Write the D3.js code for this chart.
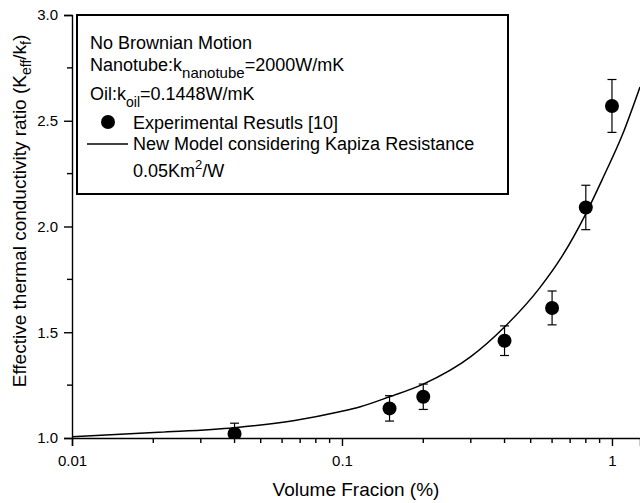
<!DOCTYPE html>
<html>
<head>
<meta charset="utf-8">
<script src="https://cdn.jsdelivr.net/npm/d3@7"></script>
<style>
  html, body { margin: 0; padding: 0; background: #fff; }
  svg { display: block; font-family: "Liberation Sans", Arial, Helvetica, sans-serif; }
</style>
</head>
<body>
<svg id="chart" width="640" height="503"></svg>
<script>
// Measured thermal conductivity ratio of nanotube/oil suspensions
const fractions = [0.04, 0.15, 0.2, 0.4, 0.6, 0.8, 1.0];
const ratios    = [1.02, 1.14, 1.195, 1.46, 1.615, 2.09, 2.57];
const errors    = [0.05, 0.06, 0.06, 0.07, 0.08, 0.105, 0.125];

// Model curve with Kapitza resistance (0.05 Km²/W)
const modelFractions = [0.01, 0.021, 0.04, 0.066, 0.098, 0.117, 0.15, 0.2, 0.3, 0.4, 0.54, 0.65, 0.8, 0.93, 1.09, 1.27];
const modelRatios    = [1.006, 1.027, 1.049, 1.082, 1.124, 1.148, 1.195, 1.255, 1.385, 1.525, 1.71, 1.855, 2.06, 2.235, 2.43, 2.66];

const yTicks = [1.0, 1.5, 2.0, 2.5, 3.0];
const yMinorTicks = [1.25, 1.75, 2.25, 2.75];
const xTickLabels = [0.01, 0.1, 1];
const xMinorTicks = [0.02, 0.03, 0.04, 0.05, 0.06, 0.07, 0.08, 0.09,
                     0.2, 0.3, 0.4, 0.5, 0.6, 0.7, 0.8, 0.9];

const svg = d3.select("#chart");
const plotLeft = 72, plotRight = 640, plotTop = 15, plotBottom = 438;

const x = d3.scaleLog().domain([0.01, 1.27]).range([plotLeft, plotRight]);
const y = d3.scaleLinear().domain([1, 3]).range([plotBottom, plotTop]);

svg.append("defs").append("clipPath").attr("id", "plotClip")
  .append("rect").attr("x", plotLeft).attr("y", plotTop)
  .attr("width", plotRight - plotLeft).attr("height", plotBottom - plotTop);

function styleAxis(g) {
  g.selectAll(".domain").attr("stroke", "#000").attr("stroke-width", 1.4);
  g.selectAll(".tick line").attr("stroke", "#000").attr("stroke-width", 1.4);
  g.selectAll(".tick text").attr("font-size", 15).attr("fill", "#000")
    .attr("font-family", "Liberation Sans, Arial, sans-serif");
}

// X axis: labelled decades plus minor ticks
const gx = svg.append("g").attr("transform", `translate(0,${plotBottom})`);
gx.call(d3.axisBottom(x).tickValues(xTickLabels).tickSize(8).tickPadding(9)
  .tickFormat(d => String(d)));
styleAxis(gx);
gx.append("g").selectAll("line").data(xMinorTicks).join("line")
  .attr("x1", d => x(d)).attr("x2", d => x(d))
  .attr("y1", 0).attr("y2", 5).attr("stroke", "#000").attr("stroke-width", 1.4);

// Y axis: major every 0.5, minor halfway
const gy = svg.append("g").attr("transform", `translate(${plotLeft},0)`);
gy.call(d3.axisLeft(y).tickValues(yTicks).tickSize(8).tickPadding(6).tickFormat(d3.format(".1f")));
styleAxis(gy);
gy.append("g").selectAll("line").data(yMinorTicks).join("line")
  .attr("x1", -5).attr("x2", 0)
  .attr("y1", d => y(d)).attr("y2", d => y(d))
  .attr("stroke", "#000").attr("stroke-width", 1.4);

// Model curve
const plot = svg.append("g").attr("clip-path", "url(#plotClip)");
const model = modelFractions.map((f, i) => [f, modelRatios[i]]);
plot.append("path").datum(model)
  .attr("fill", "none").attr("stroke", "#000").attr("stroke-width", 1.5)
  .attr("d", d3.line().x(d => x(d[0])).y(d => y(d[1])).curve(d3.curveMonotoneX));

// Experimental points with error bars
const pts = fractions.map((f, i) => ({ f, r: ratios[i], e: errors[i] }));
const eb = plot.selectAll(".err").data(pts).join("g").attr("class", "err")
  .attr("stroke", "#000").attr("stroke-width", 1.2);
eb.append("line").attr("x1", d => x(d.f)).attr("x2", d => x(d.f))
  .attr("y1", d => y(d.r - d.e)).attr("y2", d => y(d.r + d.e));
eb.append("line").attr("x1", d => x(d.f) - 4.5).attr("x2", d => x(d.f) + 4.5)
  .attr("y1", d => y(d.r + d.e)).attr("y2", d => y(d.r + d.e));
eb.append("line").attr("x1", d => x(d.f) - 4.5).attr("x2", d => x(d.f) + 4.5)
  .attr("y1", d => y(d.r - d.e)).attr("y2", d => y(d.r - d.e));
plot.selectAll(".pt").data(pts).join("circle").attr("class", "pt")
  .attr("cx", d => x(d.f)).attr("cy", d => y(d.r)).attr("r", 7).attr("fill", "#000");

// Axis titles
svg.append("text").attr("x", 356).attr("y", 496).attr("text-anchor", "middle")
  .attr("font-size", 19).attr("fill", "#000").text("Volume Fracion (%)");

const yt = svg.append("text").attr("transform", "translate(26,211) rotate(-90)")
  .attr("text-anchor", "middle").attr("font-size", 19).attr("fill", "#000");
yt.append("tspan").text("Effective thermal conductivity ratio (K");
yt.append("tspan").attr("font-size", 14).attr("dy", 5).text("eff");
yt.append("tspan").attr("dy", -5).text("/k");
yt.append("tspan").attr("font-size", 14).attr("dy", 5).text("f");
yt.append("tspan").attr("dy", -5).text(")");

// Legend box
const lg = svg.append("g");
lg.append("rect").attr("x", 77).attr("y", 15).attr("width", 431).attr("height", 179)
  .attr("fill", "#fff").attr("stroke", "#000").attr("stroke-width", 2);
const fs = 18;
lg.append("text").attr("x", 90).attr("y", 49).attr("font-size", fs).text("No Brownian Motion");
const t2 = lg.append("text").attr("x", 90).attr("y", 71).attr("font-size", fs);
t2.append("tspan").text("Nanotube:k");
t2.append("tspan").attr("font-size", 15).attr("dy", 7).text("nanotube");
t2.append("tspan").attr("dy", -7).text("=2000W/mK");
const t3 = lg.append("text").attr("x", 90).attr("y", 100).attr("font-size", fs);
t3.append("tspan").text("Oil:k");
t3.append("tspan").attr("font-size", 14).attr("dy", 7).text("oil");
t3.append("tspan").attr("dy", -7).text("=0.1448W/mK");
lg.append("circle").attr("cx", 108).attr("cy", 122).attr("r", 7).attr("fill", "#000");
lg.append("text").attr("x", 133).attr("y", 129).attr("font-size", fs).text("Experimental Resutls [10]");
lg.append("line").attr("x1", 87).attr("x2", 128).attr("y1", 144).attr("y2", 144)
  .attr("stroke", "#000").attr("stroke-width", 1.3);
lg.append("text").attr("x", 133).attr("y", 150).attr("font-size", fs)
  .text("New Model considering Kapiza Resistance");
const t6 = lg.append("text").attr("x", 133).attr("y", 177).attr("font-size", fs);
t6.append("tspan").text("0.05Km");
t6.append("tspan").attr("font-size", 13).attr("dy", -8).text("2");
t6.append("tspan").attr("dy", 8).text("/W");
</script>
</body>
</html>
